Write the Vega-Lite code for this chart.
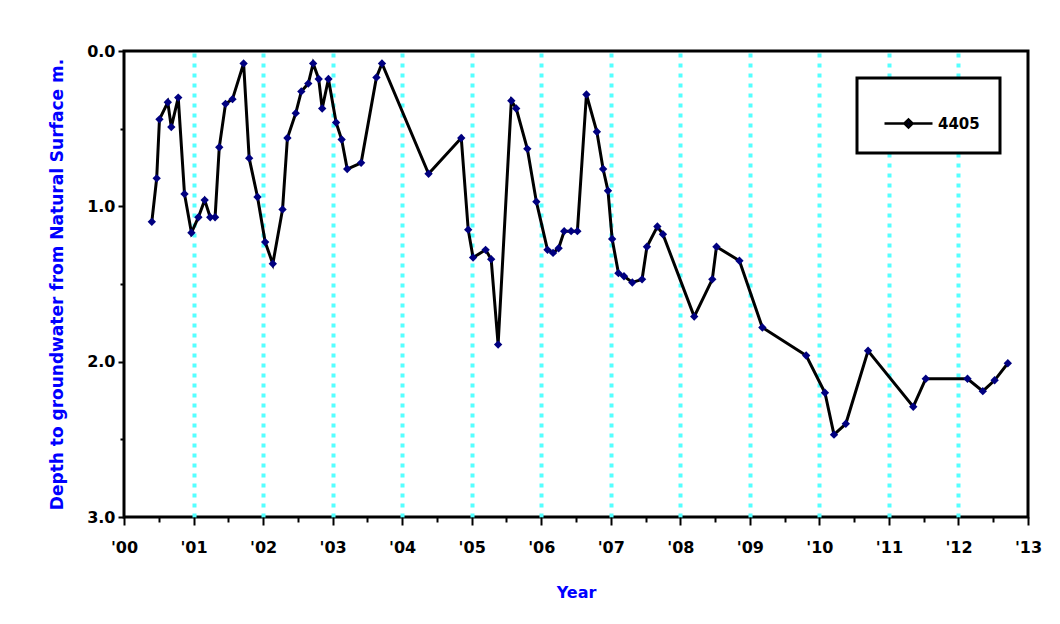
{
  "$schema": "https://vega.github.io/schema/vega-lite/v6.json",
  "width": 904,
  "height": 466,
  "autosize": {"type": "none"},
  "padding": {"left": 124, "top": 51, "right": 32, "bottom": 107},
  "background": "white",
  "config": {
    "view": {"stroke": "black", "strokeWidth": 3},
    "font": "DejaVu Sans",
    "legend": {"strokeWidth": 3}
  },
  "data": {
    "values": [
      {"year": 2000.40, "depth": 1.10, "bore": "4405"},
      {"year": 2000.47, "depth": 0.82, "bore": "4405"},
      {"year": 2000.51, "depth": 0.44, "bore": "4405"},
      {"year": 2000.63, "depth": 0.33, "bore": "4405"},
      {"year": 2000.68, "depth": 0.49, "bore": "4405"},
      {"year": 2000.78, "depth": 0.30, "bore": "4405"},
      {"year": 2000.87, "depth": 0.92, "bore": "4405"},
      {"year": 2000.97, "depth": 1.17, "bore": "4405"},
      {"year": 2001.07, "depth": 1.07, "bore": "4405"},
      {"year": 2001.16, "depth": 0.96, "bore": "4405"},
      {"year": 2001.24, "depth": 1.07, "bore": "4405"},
      {"year": 2001.31, "depth": 1.07, "bore": "4405"},
      {"year": 2001.37, "depth": 0.62, "bore": "4405"},
      {"year": 2001.46, "depth": 0.34, "bore": "4405"},
      {"year": 2001.56, "depth": 0.31, "bore": "4405"},
      {"year": 2001.72, "depth": 0.08, "bore": "4405"},
      {"year": 2001.80, "depth": 0.69, "bore": "4405"},
      {"year": 2001.92, "depth": 0.94, "bore": "4405"},
      {"year": 2002.03, "depth": 1.23, "bore": "4405"},
      {"year": 2002.14, "depth": 1.37, "bore": "4405"},
      {"year": 2002.28, "depth": 1.02, "bore": "4405"},
      {"year": 2002.35, "depth": 0.56, "bore": "4405"},
      {"year": 2002.47, "depth": 0.40, "bore": "4405"},
      {"year": 2002.55, "depth": 0.26, "bore": "4405"},
      {"year": 2002.65, "depth": 0.21, "bore": "4405"},
      {"year": 2002.72, "depth": 0.08, "bore": "4405"},
      {"year": 2002.80, "depth": 0.18, "bore": "4405"},
      {"year": 2002.85, "depth": 0.37, "bore": "4405"},
      {"year": 2002.94, "depth": 0.18, "bore": "4405"},
      {"year": 2003.05, "depth": 0.46, "bore": "4405"},
      {"year": 2003.13, "depth": 0.57, "bore": "4405"},
      {"year": 2003.21, "depth": 0.76, "bore": "4405"},
      {"year": 2003.41, "depth": 0.72, "bore": "4405"},
      {"year": 2003.63, "depth": 0.17, "bore": "4405"},
      {"year": 2003.71, "depth": 0.08, "bore": "4405"},
      {"year": 2004.38, "depth": 0.79, "bore": "4405"},
      {"year": 2004.85, "depth": 0.56, "bore": "4405"},
      {"year": 2004.95, "depth": 1.15, "bore": "4405"},
      {"year": 2005.02, "depth": 1.33, "bore": "4405"},
      {"year": 2005.20, "depth": 1.28, "bore": "4405"},
      {"year": 2005.28, "depth": 1.34, "bore": "4405"},
      {"year": 2005.38, "depth": 1.89, "bore": "4405"},
      {"year": 2005.57, "depth": 0.32, "bore": "4405"},
      {"year": 2005.64, "depth": 0.37, "bore": "4405"},
      {"year": 2005.80, "depth": 0.63, "bore": "4405"},
      {"year": 2005.93, "depth": 0.97, "bore": "4405"},
      {"year": 2006.09, "depth": 1.28, "bore": "4405"},
      {"year": 2006.17, "depth": 1.30, "bore": "4405"},
      {"year": 2006.25, "depth": 1.27, "bore": "4405"},
      {"year": 2006.33, "depth": 1.16, "bore": "4405"},
      {"year": 2006.43, "depth": 1.16, "bore": "4405"},
      {"year": 2006.52, "depth": 1.16, "bore": "4405"},
      {"year": 2006.65, "depth": 0.28, "bore": "4405"},
      {"year": 2006.80, "depth": 0.52, "bore": "4405"},
      {"year": 2006.89, "depth": 0.76, "bore": "4405"},
      {"year": 2006.96, "depth": 0.90, "bore": "4405"},
      {"year": 2007.02, "depth": 1.21, "bore": "4405"},
      {"year": 2007.11, "depth": 1.43, "bore": "4405"},
      {"year": 2007.19, "depth": 1.45, "bore": "4405"},
      {"year": 2007.31, "depth": 1.49, "bore": "4405"},
      {"year": 2007.45, "depth": 1.47, "bore": "4405"},
      {"year": 2007.52, "depth": 1.26, "bore": "4405"},
      {"year": 2007.67, "depth": 1.13, "bore": "4405"},
      {"year": 2007.75, "depth": 1.18, "bore": "4405"},
      {"year": 2008.20, "depth": 1.71, "bore": "4405"},
      {"year": 2008.46, "depth": 1.47, "bore": "4405"},
      {"year": 2008.52, "depth": 1.26, "bore": "4405"},
      {"year": 2008.85, "depth": 1.35, "bore": "4405"},
      {"year": 2009.18, "depth": 1.78, "bore": "4405"},
      {"year": 2009.81, "depth": 1.96, "bore": "4405"},
      {"year": 2010.08, "depth": 2.20, "bore": "4405"},
      {"year": 2010.21, "depth": 2.47, "bore": "4405"},
      {"year": 2010.38, "depth": 2.40, "bore": "4405"},
      {"year": 2010.70, "depth": 1.93, "bore": "4405"},
      {"year": 2011.35, "depth": 2.29, "bore": "4405"},
      {"year": 2011.53, "depth": 2.11, "bore": "4405"},
      {"year": 2012.13, "depth": 2.11, "bore": "4405"},
      {"year": 2012.35, "depth": 2.19, "bore": "4405"},
      {"year": 2012.52, "depth": 2.12, "bore": "4405"},
      {"year": 2012.71, "depth": 2.01, "bore": "4405"}
    ]
  },
  "encoding": {
    "x": {
      "field": "year",
      "type": "quantitative",
      "scale": {"domain": [2000, 2013], "nice": false, "zero": false},
      "axis": {
        "title": "Year",
        "titleColor": "#0000FF",
        "titleFont": "DejaVu Sans",
        "titleFontSize": 16,
        "titleFontWeight": "bold",
        "titlePadding": 29,
        "values": [2000, 2000.5, 2001, 2001.5, 2002, 2002.5, 2003, 2003.5, 2004, 2004.5, 2005, 2005.5, 2006, 2006.5, 2007, 2007.5, 2008, 2008.5, 2009, 2009.5, 2010, 2010.5, 2011, 2011.5, 2012, 2012.5, 2013],
        "labelExpr": "datum.value % 1 === 0 ? \"'\" + format(datum.value - 2000, '02d') : ''",
        "labelFont": "DejaVu Sans",
        "labelFontSize": 16,
        "labelFontWeight": "bold",
        "labelColor": "black",
        "labelPadding": 14,
        "labelFlush": false,
        "domain": false,
        "tickColor": "black",
        "tickWidth": 2,
        "tickSize": {"condition": {"test": "datum.value % 1 === 0", "value": 8}, "value": 5},
        "grid": true,
        "gridColor": "#55FFFF",
        "gridWidth": 4,
        "gridDash": [4, 6],
        "gridOpacity": {"condition": {"test": "datum.value % 1 !== 0 || datum.value === 2000 || datum.value === 2013", "value": 0}, "value": 1}
      }
    },
    "y": {
      "field": "depth",
      "type": "quantitative",
      "scale": {"domain": [0, 3], "reverse": true, "nice": false},
      "axis": {
        "title": "Depth to groundwater from Natural Surface m.",
        "titleColor": "#0000FF",
        "titleFont": "DejaVu Sans",
        "titleFontSize": 17,
        "titleFontWeight": "bold",
        "titlePadding": 20,
        "values": [0, 0.5, 1, 1.5, 2, 2.5, 3],
        "labelExpr": "datum.value % 1 === 0 ? format(datum.value, '.1f') : ''",
        "labelFont": "DejaVu Sans",
        "labelFontSize": 16,
        "labelFontWeight": "bold",
        "labelColor": "black",
        "labelPadding": 3,
        "labelFlush": false,
        "domain": false,
        "tickColor": "black",
        "tickWidth": 2,
        "tickSize": {"condition": {"test": "datum.value % 1 === 0", "value": 6}, "value": 4},
        "grid": false
      }
    }
  },
  "layer": [
    {
      "mark": {"type": "line", "strokeWidth": 3, "clip": true},
      "encoding": {
        "color": {
          "field": "bore",
          "type": "nominal",
          "scale": {"range": ["black"]},
          "legend": {
            "title": null,
            "orient": "none",
            "legendX": 733,
            "legendY": 27,
            "strokeColor": "black",
            "fillColor": "white",
            "padding": 20,
            "symbolOffset": 6,
            "symbolType": "M-1,0H1M-0.17,0L0,-0.17L0.17,0L0,0.17Z",
            "symbolSize": 2304,
            "symbolStrokeWidth": 2.5,
            "symbolFillColor": "#000080",
            "symbolStrokeColor": "black",
            "labelFont": "DejaVu Sans",
            "labelFontSize": 15,
            "labelFontWeight": "bold",
            "labelColor": "black",
            "labelOffset": 4
          }
        }
      }
    },
    {
      "mark": {"type": "point", "shape": "diamond", "filled": true, "fill": "#000080", "size": 70, "opacity": 1}
    }
  ]
}
